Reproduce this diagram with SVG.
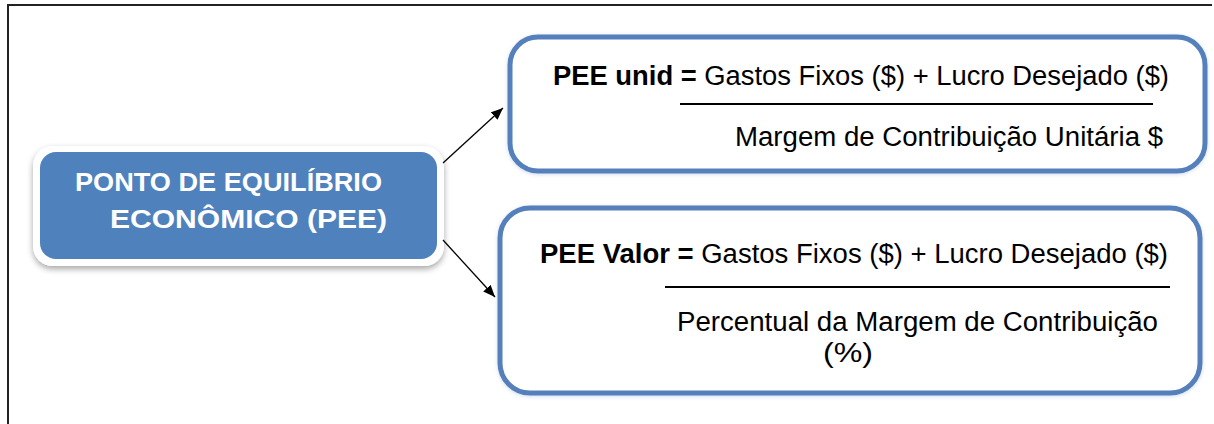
<svg xmlns="http://www.w3.org/2000/svg" width="1214" height="424" viewBox="0 0 1214 424">
  <style>
    .frame { fill: none; stroke: #222; stroke-width: 2; }
    .box { fill: #fff; stroke: #5580bb; stroke-width: 5; }
    .formula { font-family: "Liberation Sans", Arial, sans-serif; font-size: 27px; fill: #000; }
    .b { font-weight: bold; }
    .title { font-family: "Liberation Sans", Arial, sans-serif; font-size: 26px; font-weight: bold; fill: #fff; }
    .rule { stroke: #000; stroke-width: 2; }
    .conn { stroke: #000; stroke-width: 1.3; fill: none; }
  </style>
  <defs>
    <filter id="soft" x="-10%" y="-20%" width="120%" height="150%">
      <feDropShadow dx="0" dy="3" stdDeviation="3" flood-color="#000" flood-opacity="0.35"/>
    </filter>
    <filter id="glow" x="-5%" y="-10%" width="110%" height="120%">
      <feDropShadow dx="0" dy="1" stdDeviation="2" flood-color="#7f9fc9" flood-opacity="0.35"/>
    </filter>
    <marker id="arrow" viewBox="0 0 12 10" refX="12" refY="5" markerWidth="12" markerHeight="10" markerUnits="userSpaceOnUse" orient="auto">
      <path d="M0,0 L12,5 L0,10 Z" fill="#000"/>
    </marker>
  </defs>

  <rect width="1214" height="424" fill="#fff"/>
  <!-- outer frame -->
  <path class="frame" d="M8,430 L8,5 L1212,5"/>

  <!-- central concept -->
  <g id="node-pee">
    <rect x="33" y="146" width="411" height="120" rx="20" fill="#fff" filter="url(#soft)"/>
    <rect x="40" y="152" width="397" height="107" rx="16" fill="#4f81bd"/>
    <text class="title" x="75" y="191" textLength="307" lengthAdjust="spacingAndGlyphs">PONTO DE EQUILÍBRIO</text>
    <text class="title" x="110" y="228" textLength="277" lengthAdjust="spacingAndGlyphs">ECONÔMICO (PEE)</text>
  </g>

  <!-- unit break-even formula -->
  <g id="node-unid">
    <rect class="box" x="510" y="37" width="695" height="134" rx="28" filter="url(#glow)"/>
    <text class="formula" x="553" y="85" textLength="616" lengthAdjust="spacingAndGlyphs"><tspan class="b">PEE unid =</tspan> Gastos Fixos ($) + Lucro Desejado ($)</text>
    <line class="rule" x1="680" y1="104" x2="1153" y2="104"/>
    <text class="formula" x="735" y="146" textLength="428" lengthAdjust="spacingAndGlyphs">Margem de Contribuição Unitária $</text>
  </g>

  <!-- value break-even formula -->
  <g id="node-valor">
    <rect class="box" x="500" y="208" width="700" height="185" rx="30" filter="url(#glow)"/>
    <text class="formula" x="540" y="263" textLength="628" lengthAdjust="spacingAndGlyphs"><tspan class="b">PEE Valor =</tspan> Gastos Fixos ($) + Lucro Desejado ($)</text>
    <line class="rule" x1="665" y1="287" x2="1170" y2="287"/>
    <text class="formula" x="677" y="331" textLength="481" lengthAdjust="spacingAndGlyphs">Percentual da Margem de Contribuição</text>
    <text class="formula" x="823" y="362" textLength="50" lengthAdjust="spacingAndGlyphs">(%)</text>
  </g>

  <g id="connectors">
    <line class="conn" x1="443" y1="163" x2="503" y2="108" marker-end="url(#arrow)"/>
    <line class="conn" x1="443" y1="240" x2="495" y2="297" marker-end="url(#arrow)"/>
  </g>
</svg>
